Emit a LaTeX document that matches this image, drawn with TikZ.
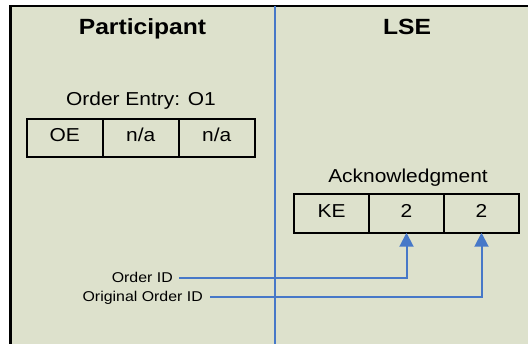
\documentclass[tikz,border=0pt]{standalone}
\usepackage{fontspec}
\setmainfont{Liberation Sans}[FakeStretch=1.12]
\usetikzlibrary{arrows.meta, positioning}
\definecolor{panelbg}{RGB}{221,225,204}
\definecolor{linkblue}{RGB}{70,120,200}
\tikzstyle{heading} = [font=\fontsize{22}{26}\selectfont\bfseries, anchor=base]
\tikzstyle{msgname} = [font=\fontsize{18.7}{22}\selectfont, anchor=base]
\tikzstyle{field} = [rectangle, draw=black, line width=1.6pt, minimum width=76pt, minimum height=38.5pt, inner sep=0pt, outer sep=0pt, text height=13pt, text depth=5pt, font=\fontsize{18.7}{22}\selectfont]
\tikzstyle{idlabel} = [anchor=east, inner sep=0pt, text height=10pt, text depth=0pt, font=\fontsize{14.2}{17}\selectfont]
\tikzstyle{link} = [draw=linkblue, line width=2pt, -{Triangle[width=14pt,length=14pt]}]

\begin{document}
\begin{tikzpicture}[x=1pt, y=1pt, node distance=0pt]
\useasboundingbox (0,0) rectangle (528,-344);
\fill[white] (0,0) rectangle (528,-344);
% panel and its frame
\fill[panelbg] (10.5,-6) rectangle (528,-344);
\draw[line width=2.5pt, line cap=rect] (10.5,-344) -- (10.5,-6) -- (528,-6);
\draw[linkblue, line width=2pt] (274.5,-6) -- (274.5,-344);

\node (participant) [heading] at (142.5,-35) {Participant};
\node (lse) [heading] at (407,-35) {LSE};

% order entry sent by the participant
\node (oename) [msgname] at (141,-106) {Order Entry: O1};
\node (oe1) [field] at (64.75,-138) {OE};
\node (oe2) [field, right=of oe1] {n/a};
\node (oe3) [field, right=of oe2] {n/a};

% acknowledgment sent back by the exchange
\node (ackname) [msgname] at (408,-183) {Acknowledgment};
\node (ack1) [field, minimum width=75pt] at (331.5,-213.5) {KE};
\node (ack2) [field, minimum width=75pt, right=of ack1] {2};
\node (ack3) [field, minimum width=75pt, right=of ack2] {2};

\node (orderid) [idlabel] at (173,-278) {Order ID};
\node (origid) [idlabel] at (203,-297) {Original Order ID};

\draw [link] ([xshift=6pt]orderid.east) -| (ack2.south);
\draw [link] ([xshift=7pt]origid.east) -| (ack3.south);
\end{tikzpicture}
\end{document}
